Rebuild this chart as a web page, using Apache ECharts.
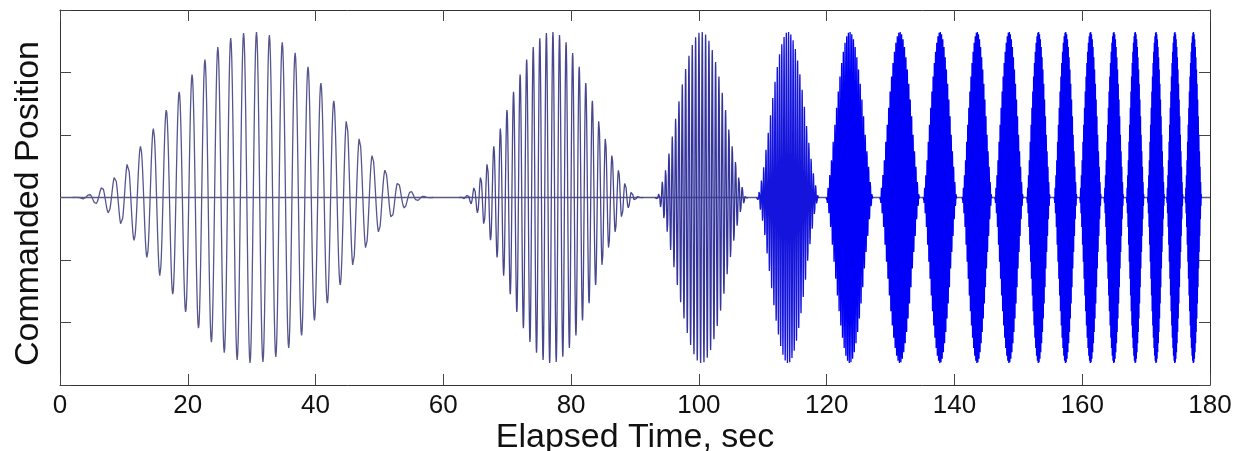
<!DOCTYPE html>
<html>
<head>
<meta charset="utf-8">
<script src="https://cdn.jsdelivr.net/npm/echarts@6/dist/echarts.min.js"></script>
<style>
html,body{margin:0;padding:0;background:#fff;}
#chart{width:1243px;height:451px;}
</style>
</head>
<body>
<div id="chart"></div>
<script>
// ---- data ----
const xTicks = [0, 20, 40, 60, 80, 100, 120, 140, 160, 180];
// each burst: start / end time (sec), number of oscillation cycles, peak amplitude, envelope sharpness
const burstStart  = [2.0, 62.5, 93.1, 109.0, 119.9, 128.3, 135.1, 141.2, 146.3, 151.3, 155.6, 159.6, 163.4, 166.9, 170.2, 173.2, 176.1];
const burstEnd    = [58.5, 91.3, 107.7, 118.9, 127.3, 134.6, 140.4, 145.9, 150.8, 155.0, 159.2, 163.0, 166.5, 169.7, 172.9, 175.8, 178.7];
const burstCycles = [28, 28, 28, 28, 28, 28, 28, 28, 28, 28, 28, 28, 28, 28, 28, 28, 28];
const burstPeak   = [2.65, 2.65, 2.65, 2.65, 2.65, 2.65, 2.65, 2.65, 2.65, 2.65, 2.65, 2.65, 2.65, 2.65, 2.65, 2.65, 2.65];
const burstShape  = [2.0, 2.0, 1.7, 1.6, 1.4, 1.4, 1.4, 1.4, 1.4, 1.4, 1.4, 1.4, 1.4, 1.4, 1.4, 1.4, 1.4];
const restLine    = [[0, 0], [180, 0]];

// ---- styles ----
const burstColors = ['#56568f', '#48488e', '#34349c', '#1414dc', '#0000f8', '#0000f8', '#0000f8', '#0000f8', '#0000f8',
                     '#0000f8', '#0000f8', '#0000f8', '#0000f8', '#0000f8', '#0000f8', '#0000f8', '#0000f8'];

function burstPoints(i) {
  const pts = [];
  const perCycle = 24;
  const n = burstCycles[i] * perCycle;
  for (let k = 0; k <= n; k++) {
    const u = k / n;
    const t = burstStart[i] + (burstEnd[i] - burstStart[i]) * u;
    const env = Math.pow(Math.sin(Math.PI * u), burstShape[i]);
    pts.push([t, burstPeak[i] * env * Math.sin(2 * Math.PI * burstCycles[i] * u)]);
  }
  return pts;
}

const series = [{
  type: 'line', data: restLine, showSymbol: false, silent: true,
  lineStyle: { color: '#5a5a80', width: 1.4 }
}];
for (let i = 0; i < burstStart.length; i++) {
  series.push({
    type: 'line', data: burstPoints(i), showSymbol: false, silent: true,
    sampling: null, lineStyle: { color: burstColors[i], width: 1.3 }
  });
}

const axisLine = { show: true, onZero: false, lineStyle: { color: '#333', width: 1 } };
const tickIn = { show: true, inside: true, length: 11, lineStyle: { color: '#444', width: 1 } };
const font = 'Liberation Sans, Arial, sans-serif';

const chart = echarts.init(document.getElementById('chart'), null, { renderer: 'canvas' });
chart.setOption({
  animation: false,
  backgroundColor: '#fff',
  grid: { left: 60, right: 33, top: 10, bottom: 66, containLabel: false, outerBoundsMode: 'none' },
  xAxis: [{
    type: 'value', position: 'bottom', min: xTicks[0], max: xTicks[xTicks.length - 1], interval: 20,
    axisLine: axisLine, axisTick: tickIn, splitLine: { show: false },
    axisLabel: { show: true, fontSize: 26, color: '#111', fontFamily: font, margin: 8 },
    name: 'Elapsed Time, sec', nameLocation: 'middle', nameGap: 36, nameMoveOverlap: false,
    nameTextStyle: { fontSize: 34, color: '#111', fontFamily: font }
  }, {
    type: 'value', position: 'top', min: 0, max: 180, interval: 20,
    axisLine: axisLine, axisTick: tickIn, splitLine: { show: false }, axisLabel: { show: false }
  }],
  yAxis: [{
    type: 'value', position: 'left', min: -3, max: 3, interval: 1,
    axisLine: axisLine, axisTick: tickIn, splitLine: { show: false }, axisLabel: { show: false },
    name: 'Commanded Position', nameLocation: 'middle', nameGap: 14, nameRotate: 90, nameMoveOverlap: false,
    nameTextStyle: { fontSize: 34, color: '#111', fontFamily: font, padding: [0, 12, 0, 0] }
  }, {
    type: 'value', position: 'right', min: -3, max: 3, interval: 1,
    axisLine: axisLine, axisTick: tickIn, splitLine: { show: false }, axisLabel: { show: false }
  }],
  series: series
});
</script>
</body>
</html>
